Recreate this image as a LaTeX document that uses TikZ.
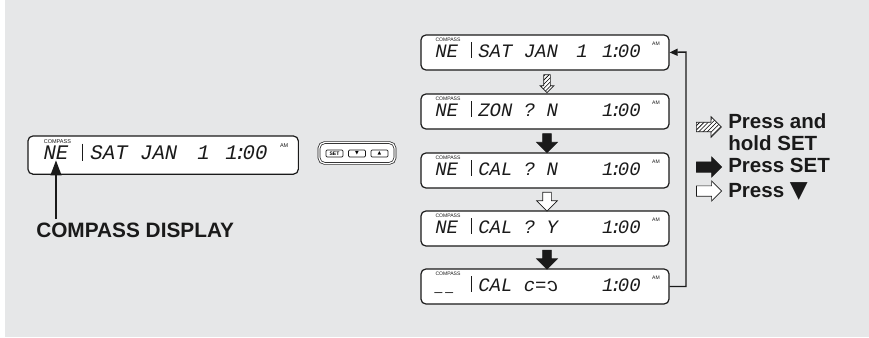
\documentclass[tikz,border=0pt]{standalone}
\usepackage{fontspec}
\usepackage{graphicx}
\usepackage{tikz}
\usepackage{xcolor}
\usetikzlibrary{shapes.arrows, arrows.meta, positioning, patterns, calc}
\setmainfont{Liberation Sans}
\newfontfamily\lcdfont{Liberation Mono}
\newfontfamily\symfont{DejaVu Sans}
\definecolor{Panel_Grey}{HTML}{E6E7E8}
\definecolor{Ink_Black}{HTML}{1A1A1A}

\tikzset{
    lcdbox/.style={draw=Ink_Black, line width=0.85pt, fill=white, rounded corners=3.5pt,
        minimum width=6.2cm, minimum height=0.875cm, inner sep=0pt},
    lcdchar/.style={inner sep=0pt, text=Ink_Black, font=\lcdfont\itshape\fontsize{13.5}{13.5}\selectfont},
    lcdtag/.style={inner sep=0pt, text=Ink_Black, font=\fontsize{3.6}{3.6}\selectfont},
    lcdbar/.style={Ink_Black, line width=0.7pt},
    legendtext/.style={inner sep=0pt, align=left, text=Ink_Black,
        font=\bfseries\fontsize{14.6}{15.6}\selectfont},
    holdarrow/.style={single arrow, draw=Ink_Black, line width=0.5pt, preaction={fill=white},
        pattern=north east lines, minimum width=0pt},
    setarrow/.style={single arrow, draw=Ink_Black, line width=0.5pt, fill=Ink_Black, minimum width=0pt},
    pressarrow/.style={single arrow, draw=Ink_Black, line width=0.5pt, fill=white, minimum width=0pt},
    keykey/.style={draw=Ink_Black, line width=0.5pt, fill=white, rounded corners=0.8pt,
        minimum width=0.425cm, minimum height=0.175cm, inner sep=0pt,
        font=\bfseries\fontsize{3.6}{3.6}\selectfont}
}

% one LCD panel: name, top left corner, scale, direction, message, day
\newcommand{\lcdpanel}[6]{%
    \begin{scope}[shift={#2}, scale=#3, transform shape]
        \node[lcdbox] (#1) at (124,17.5) {};
        \node[lcdtag] (#1-tag) at (27,5) {COMPASS};
        \node[lcdchar, anchor=base west] (#1-dir) at (14,22) {#4};
        \draw[lcdbar] (50,7) -- (50,23);
        \node[lcdchar, anchor=base west] (#1-msg) at (57,22) {#5};
        \node[lcdchar, anchor=base] (#1-day) at (161,22) {#6};
        \node[lcdchar, anchor=base east] (#1-time) at (220,22) {1\kern-2.5pt:\kern-2.5pt00};
        \node[lcdtag] (#1-am) at (235,8.5) {AM};
    \end{scope}}

\newcommand{\lcddash}{\scalebox{0.7}[1]{\_}}

\begin{document}
\begin{tikzpicture}[x=0.025cm, y=-0.025cm]
    % Background panel
    \useasboundingbox (0,0) rectangle (869,337);
    \fill[Panel_Grey] (5,0) rectangle (869,337);

    % Watch face shown on its own
    \lcdpanel{face}{(28,136)}{1.09}{NE}{SAT JAN}{1}

    % Caption and pointer
    \node[legendtext, anchor=base west, font=\bfseries\fontsize{14.8}{15.6}\selectfont] (caption) at (36,237) {COMPASS DISPLAY};
    \draw[-{Triangle[length=0.38cm, width=0.27cm]}, line width=1.4pt, Ink_Black]
        (caption.north -| face-dir.south) ++(0,-3) -- (face-dir.south);

    % Button pad
    \node[draw=Ink_Black, double, double distance=0.9pt, line width=0.5pt, fill=white, rounded corners=4pt,
        minimum width=1.9cm, minimum height=0.52cm] (keys) at (357,153) {};
    \node[keykey] (key-set) at (334.5,153.5) {SET};
    \node[keykey] (key-down) at (357,153.5) {\symfont\fontsize{3.4}{3.4}\selectfont ▼};
    \node[keykey] (key-up) at (379.5,153.5) {\symfont\fontsize{3.4}{3.4}\selectfont ▲};

    % Calibration sequence
    \lcdpanel{s1}{(421,35)}{1}{NE}{SAT JAN}{1}
    \lcdpanel{s2}{(421,94)}{1}{NE}{ZON ? N}{}
    \lcdpanel{s3}{(421,153)}{1}{NE}{CAL ? N}{}
    \lcdpanel{s4}{(421,211)}{1}{NE}{CAL ? Y}{}
    \lcdpanel{s5}{(421,269)}{1}{\lcddash\kern2pt\lcddash}{CAL c=\reflectbox{c}}{}

    % Steps between panels
    \node[holdarrow, rotate=-90, minimum height=0.45cm, inner sep=0.075cm,
        single arrow head extend=0.09cm] (a12) at ($(s1.south)!0.5!(s2.north)+(2,0)$) {};
    \node[setarrow, rotate=-90, minimum height=0.475cm, inner sep=0.1cm,
        single arrow head extend=0.15cm] (a23) at ($(s2.south)!0.5!(s3.north)+(2,0)$) {};
    \node[pressarrow, rotate=-90, minimum height=0.475cm, inner sep=0.1cm,
        single arrow head extend=0.15cm] (a34) at ($(s3.south)!0.5!(s4.north)+(2,0)$) {};
    \node[setarrow, rotate=-90, minimum height=0.475cm, inner sep=0.1cm,
        single arrow head extend=0.15cm] (a45) at ($(s4.south)!0.5!(s5.north)+(2,0)$) {};

    % Return loop
    \coordinate (loop) at (686,52);
    \draw[-{Triangle[length=0.2cm, width=0.175cm]}, line width=1.05pt, Ink_Black]
        (s5.east) -| (loop) -- (s1.east);

    % Legend
    \node[holdarrow, minimum height=0.625cm, inner sep=0.11cm,
        single arrow head extend=0.14cm] (key-hold) at (706.5,127) {};
    \node[setarrow, minimum height=0.625cm, inner sep=0.12cm,
        single arrow head extend=0.12cm] (key-press) at (706.5,167) {};
    \node[pressarrow, minimum height=0.625cm, inner sep=0.12cm,
        single arrow head extend=0.12cm] (key-step) at (706.5,191) {};
    \node[legendtext, anchor=north west] (hold-text) at (728,113) {Press and\\hold SET};
    \node[legendtext, anchor=base west] (set-text) at (728,172) {Press SET};
    \node[legendtext, anchor=base west] (down-text) at (728,197) {Press {\symfont\fontsize{16.5}{16.5}\selectfont ▼}};
\end{tikzpicture}
\end{document}
